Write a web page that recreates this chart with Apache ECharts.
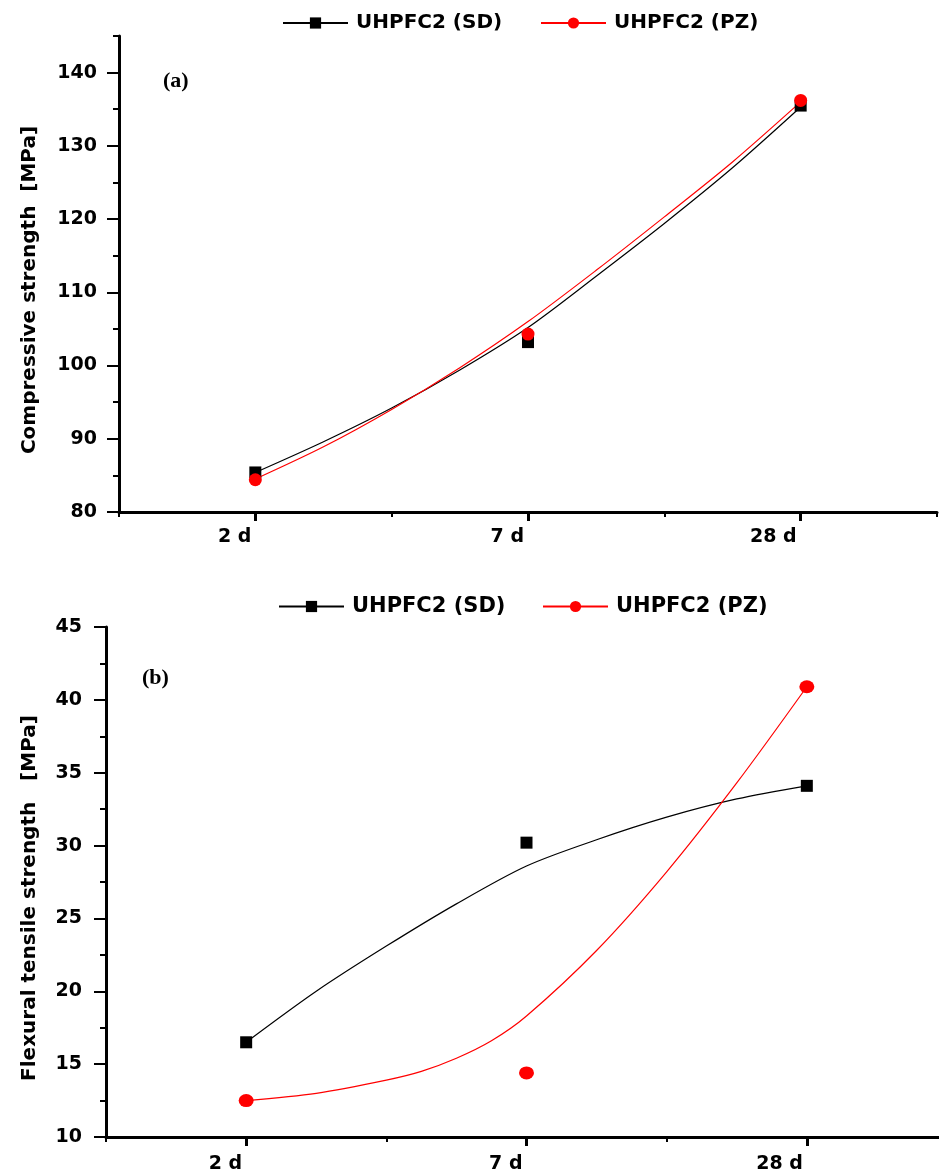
<!DOCTYPE html>
<html>
<head>
<meta charset="utf-8">
<script src="https://cdn.jsdelivr.net/npm/echarts@6/dist/echarts.min.js"></script>
<style>
html,body{margin:0;padding:0;background:#fff;}
#chart{width:939px;height:1175px;}
</style>
</head>
<body>
<div id="chart"></div>
<script>
// ---- data ----
const categories = ['2 d', '7 d', '28 d'];
const catPos = [1, 2, 3];
const yTicksA = [80, 90, 100, 110, 120, 130, 140];
const yTicksB = [10, 15, 20, 25, 30, 35, 40, 45];
const seriesNames = ['UHPFC2 (SD)', 'UHPFC2 (PZ)'];

// (a) compressive strength, measured points
const compSD = [85.4, 103.2, 135.5];
const compPZ = [84.4, 104.3, 136.2];
// (b) flexural tensile strength, measured points
const flexSD = [16.5, 30.2, 34.1];
const flexPZ = [12.5, 14.4, 40.9];

// fitted curves
const fitPos = [1, 1.25, 1.5, 1.75, 2, 2.25, 2.5, 2.75, 3];
const compFitSD = [85.4, 89.6, 94.2, 99.4, 105.2, 112.2, 119.4, 127.0, 135.3];
const compFitPZ = [84.5, 88.9, 94.0, 99.7, 106.0, 113.0, 120.3, 127.8, 136.0];
const flexFitSD = [16.5, 20.0, 23.1, 26.0, 28.6, 30.4, 31.95, 33.2, 34.1];
const flexFitPZPos = [1, 1.25, 1.5, 1.625, 1.75, 1.875, 2, 2.25, 2.5, 2.75, 3];
const flexFitPZ = [12.5, 13.0, 13.9, 14.5, 15.4, 16.6, 18.3, 22.8, 28.2, 34.3, 40.9];

// ---- build ----
const zip = (xs, ys) => xs.map((x, i) => [x, ys[i]]);
const FONT = 'DejaVu Sans';
const BLACK = '#000000';
const RED = '#ff0000';

function xAxes(gridIndex, labelMargin) {
  return [
    {
      type: 'value', gridIndex, min: 0.5, max: 3.5, interval: 0.5, position: 'bottom',
      axisLine: { show: true, lineStyle: { color: BLACK, width: 3 } },
      axisTick: { show: true, customValues: catPos, length: 9, lineStyle: { color: BLACK, width: 3 } },
      axisLabel: {
        show: true, customValues: catPos, margin: labelMargin, align: 'right', padding: [0, 4, 0, 0],
        formatter: v => categories[catPos.indexOf(v)] || '',
        color: BLACK, fontFamily: FONT, fontWeight: 'bold', fontSize: 19
      },
      splitLine: { show: false }
    },
    {
      type: 'value', gridIndex, min: 0.5, max: 3.5, interval: 0.5, position: 'bottom',
      axisLine: { show: false },
      axisTick: { show: true, length: 5, lineStyle: { color: BLACK, width: 2 } },
      axisLabel: { show: false },
      splitLine: { show: false }
    }
  ];
}

function yAxes(gridIndex, min, max, majorTicks, minorInterval, name, nameGap, labelMargin) {
  return [
    {
      type: 'value', gridIndex, min, max, interval: minorInterval, position: 'left',
      name, nameLocation: 'middle', nameGap,
      nameTextStyle: { color: BLACK, fontFamily: FONT, fontWeight: 'bold', fontSize: 20, padding: [0, 32, 0, 0] },
      axisLine: { show: true, lineStyle: { color: BLACK, width: 3 } },
      axisTick: { show: true, customValues: majorTicks, length: 12, lineStyle: { color: BLACK, width: 2 } },
      axisLabel: {
        show: true, customValues: majorTicks, margin: labelMargin,
        color: BLACK, fontFamily: FONT, fontWeight: 'bold', fontSize: 19
      },
      splitLine: { show: false }
    },
    {
      type: 'value', gridIndex, min, max, interval: minorInterval, position: 'left',
      axisLine: { show: false },
      axisTick: { show: true, length: 6, lineStyle: { color: BLACK, width: 2 } },
      axisLabel: { show: false },
      splitLine: { show: false }
    }
  ];
}

function curve(name, data, color, symbol, xi, yi) {
  return {
    name, type: 'line', xAxisIndex: xi, yAxisIndex: yi, data,
    smooth: 0.3, symbol, showSymbol: false, symbolSize: 12,
    lineStyle: { color, width: 1.2 }, itemStyle: { color },
    emphasis: { disabled: true }, z: 2
  };
}
function points(name, data, color, symbol, size, xi, yi) {
  return {
    name, type: 'scatter', xAxisIndex: xi, yAxisIndex: yi, data,
    symbol, symbolSize: size, itemStyle: { color, opacity: 1 },
    emphasis: { disabled: true }, z: 5
  };
}

function legend(name, left, top, size) {
  return {
    data: [name], left, top, orient: 'horizontal',
    itemWidth: 65, itemHeight: 14, itemGap: 0,
    selectedMode: false,
    textStyle: { color: BLACK, fontFamily: FONT, fontWeight: 'bold', fontSize: size, padding: [0, 0, 0, 3] }
  };
}

const option = {
  animation: false,
  backgroundColor: '#ffffff',
  grid: [
    { left: 119, top: 36, width: 818, height: 476, containLabel: false, outerBoundsMode: 'none' },
    { left: 106, top: 627, right: -8, height: 510, containLabel: false, outerBoundsMode: 'none' }
  ],
  legend: [
    legend(seriesNames[0], 277, 8, 20),
    legend(seriesNames[1], 535, 8, 20),
    legend(seriesNames[0], 273, 591, 21),
    legend(seriesNames[1], 537, 591, 21)
  ],
  xAxis: [...xAxes(0, 16), ...xAxes(1, 18)],
  yAxis: [
    ...yAxes(0, 80, 145, yTicksA, 5, 'Compressive strength  [MPa]', 79, 22),
    ...yAxes(1, 10, 45, yTicksB, 2.5, 'Flexural tensile strength   [MPa]', 66, 24)
  ],
  graphic: [
    { type: 'text', left: 163, top: 70, style: { text: '(a)', fill: BLACK, font: 'bold 22px "Liberation Serif"' } },
    { type: 'text', left: 142, top: 667, style: { text: '(b)', fill: BLACK, font: 'bold 22px "Liberation Serif"' } }
  ],
  series: [
    curve(seriesNames[0], zip(fitPos, compFitSD), BLACK, 'rect', 0, 0),
    curve(seriesNames[1], zip(fitPos, compFitPZ), RED, 'circle', 0, 0),
    points(seriesNames[0], zip(catPos, compSD), BLACK, 'rect', 12, 0, 0),
    points(seriesNames[1], zip(catPos, compPZ), RED, 'circle', 13, 0, 0),
    curve(seriesNames[0], zip(fitPos, flexFitSD), BLACK, 'rect', 2, 2),
    curve(seriesNames[1], zip(flexFitPZPos, flexFitPZ), RED, 'circle', 2, 2),
    points(seriesNames[0], zip(catPos, flexSD), BLACK, 'rect', 12, 2, 2),
    points(seriesNames[1], zip(catPos, flexPZ), RED, 'circle', [15, 13], 2, 2)
  ]
};

const chart = echarts.init(document.getElementById('chart'), null, { renderer: 'canvas' });
chart.setOption(option);
</script>
</body>
</html>
